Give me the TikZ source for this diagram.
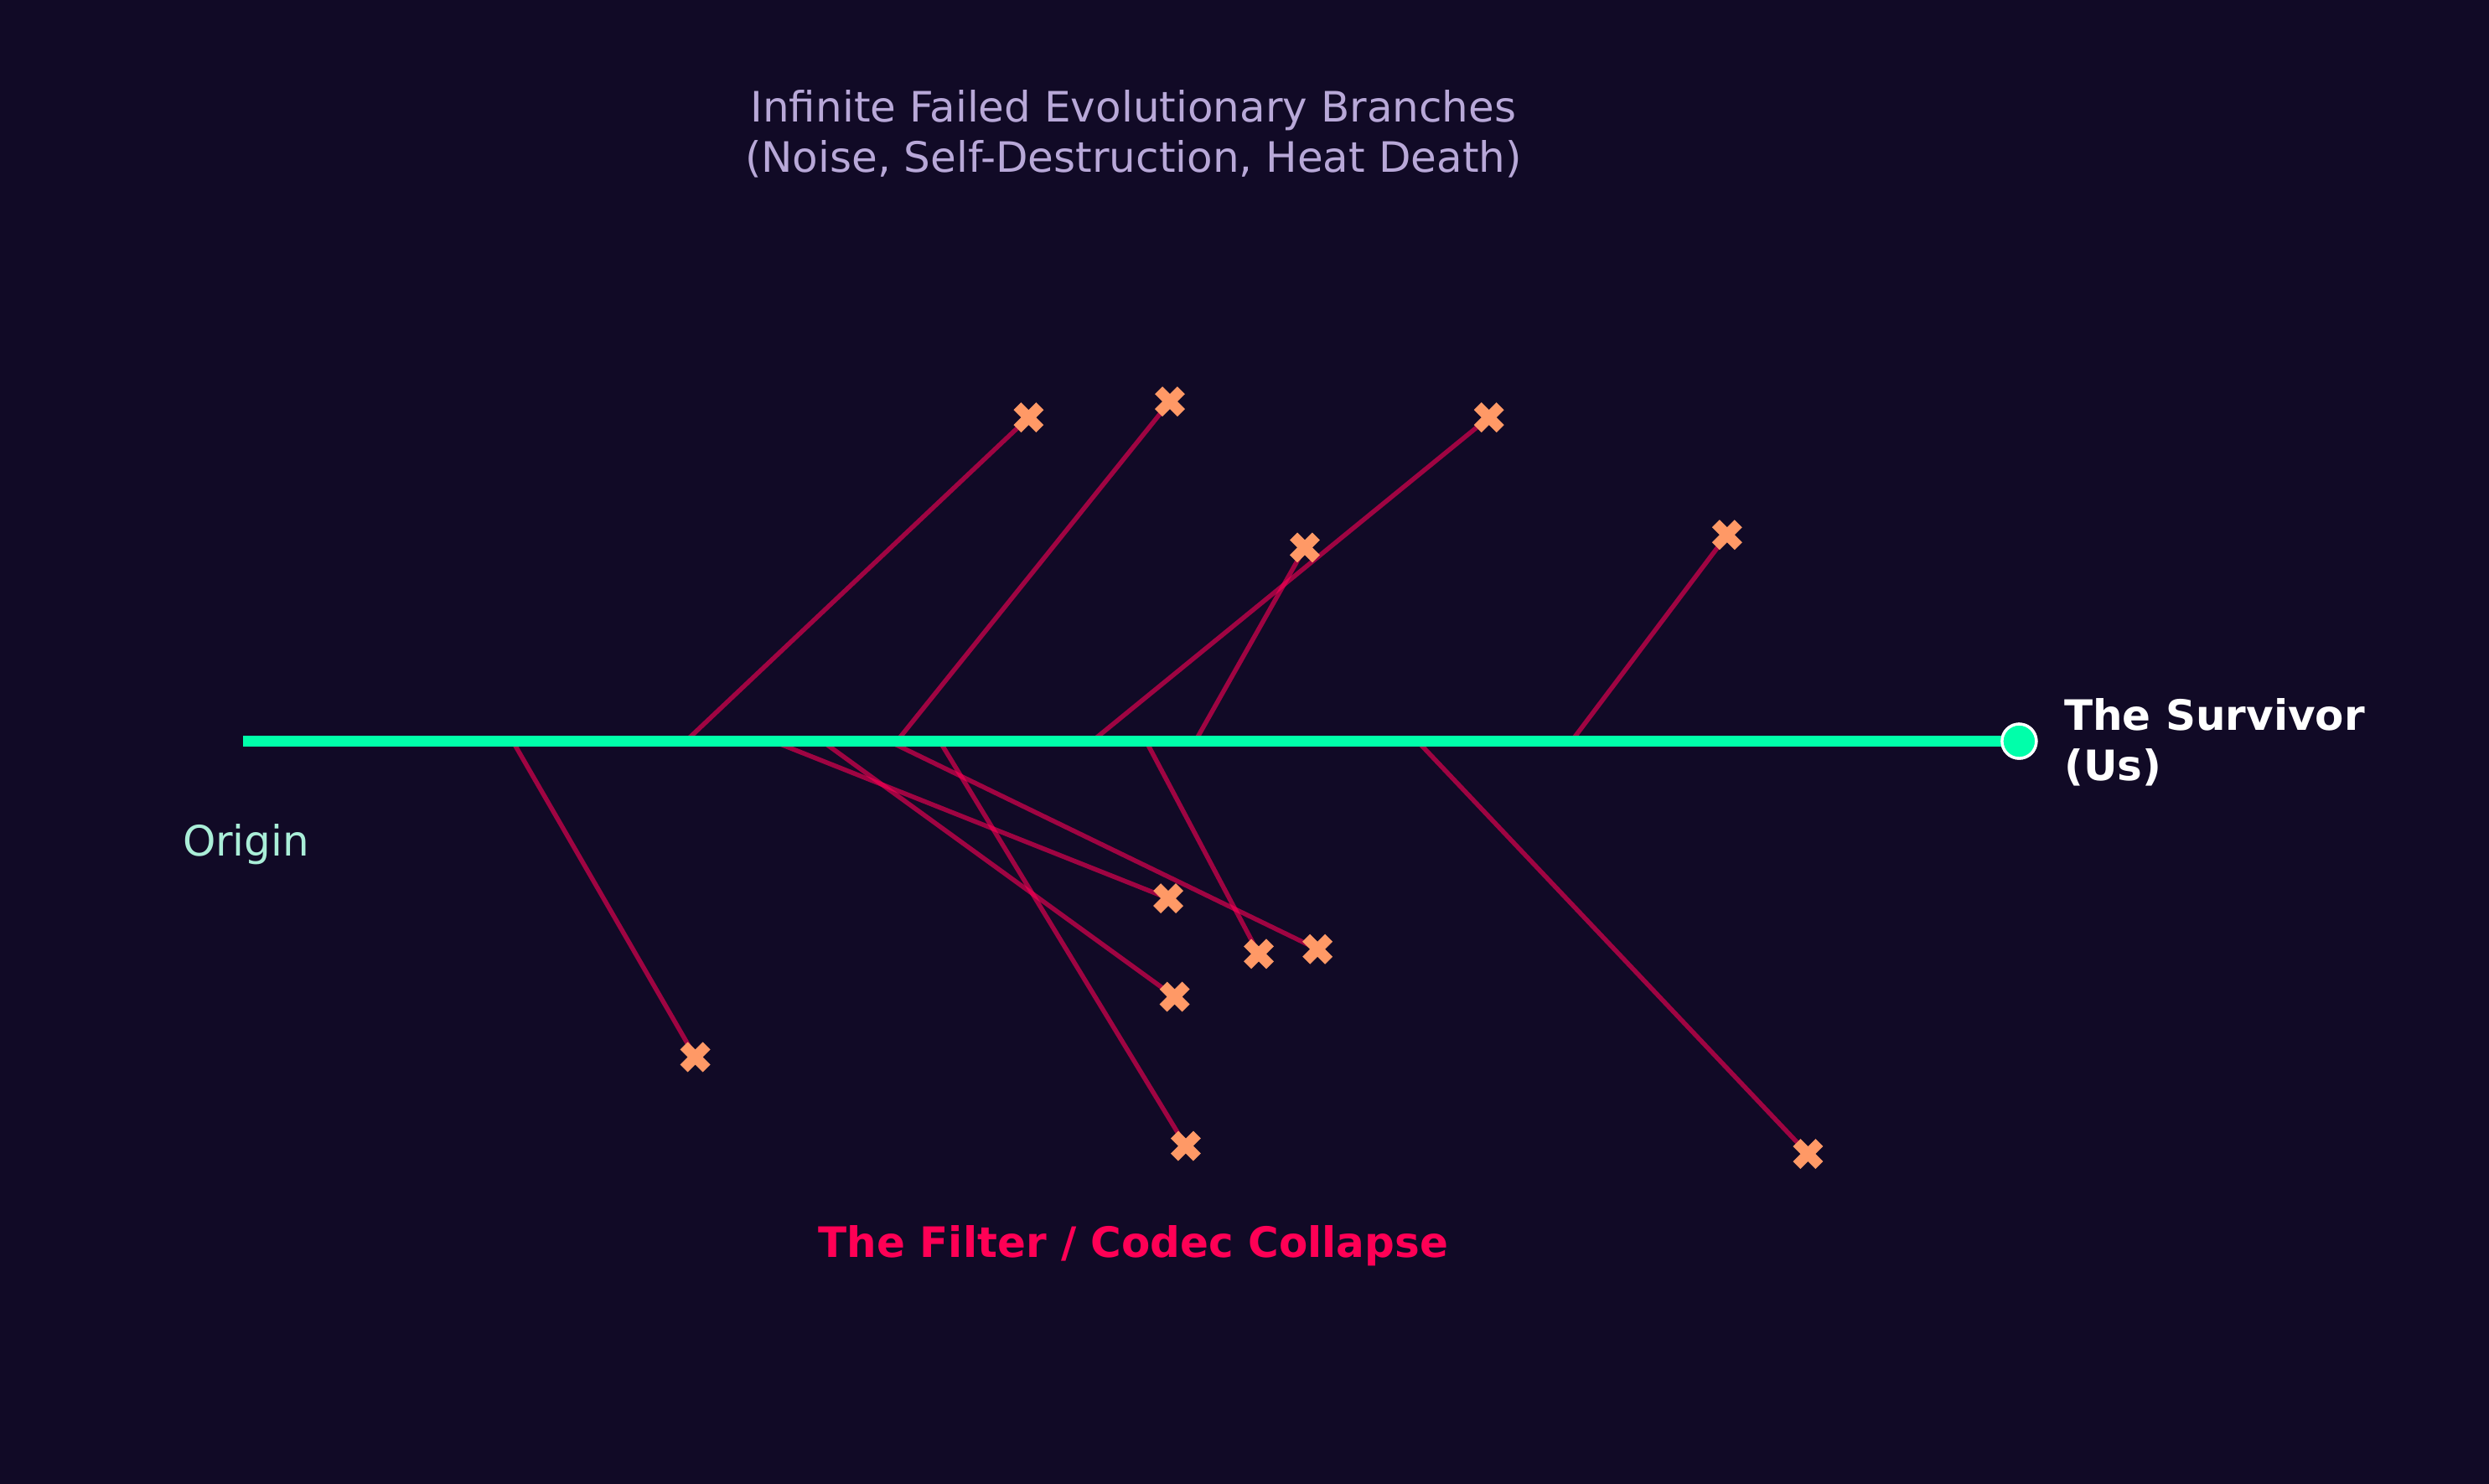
\documentclass[tikz,border=0pt]{standalone}
\usepackage{fontspec}
\setmainfont{DejaVu Sans}
\definecolor{bg}{HTML}{110A26}
\definecolor{life}{HTML}{00FFAA}
\definecolor{fail}{HTML}{FF0055}
\definecolor{xm}{HTML}{FF9966}
\definecolor{ttl}{HTML}{B8A8D8}
\definecolor{orig}{HTML}{AAEED8}
\begin{document}
\begin{tikzpicture}[x=0.5pt,y=-0.5pt,
  branch/.style={draw=fail, draw opacity=0.6, line width=1.45pt},
  xmark/.pic={\fill[xm, rotate=45, scale=3.35] (-1,-3)--(1,-3)--(1,-1)--(3,-1)--(3,1)--(1,1)--(1,3)--(-1,3)--(-1,1)--(-3,1)--(-3,-1)--(-1,-1)--cycle;},
  lbl/.style={font=\fontsize{13.2}{15.8}\selectfont, inner sep=0pt}]
\useasboundingbox (0,0) rectangle (1568,934.5);
\fill[bg] (-5,-5) rectangle (1575,940);
% branch start points on the survivor line
\coordinate (s1) at (432,467);
\coordinate (s2) at (565,467);
\coordinate (s3) at (688,467);
\coordinate (s4) at (753,467);
\coordinate (s5) at (990,467);
\coordinate (s6) at (323,467);
\coordinate (s7) at (487,467);
\coordinate (s8) at (518,467);
\coordinate (s9) at (560,467);
\coordinate (s10) at (592,467);
\coordinate (s11) at (722,467);
\coordinate (s12) at (893,467);
% dead ends
\coordinate (e1) at (648,263);
\coordinate (e2) at (737,253);
\coordinate (e3) at (938,263);
\coordinate (e4) at (822,345);
\coordinate (e5) at (1088,337);
\coordinate (e6) at (438,666);
\coordinate (e7) at (736,566);
\coordinate (e8) at (740,628);
\coordinate (e9) at (830,598);
\coordinate (e10) at (747,722);
\coordinate (e11) at (793,601);
\coordinate (e12) at (1139,727);
\foreach \i in {1,...,12} {\draw[branch] (s\i) -- (e\i);}
\coordinate (origin) at (153,467);
\node[circle, fill=life, draw=white, line width=0.9pt, minimum size=10.8pt, inner sep=0pt] (surv) at (1272,467) {};
\draw[life, line width=3.2pt] (origin) -- (surv.center);
\node[circle, fill=life, draw=white, line width=0.9pt, minimum size=10.8pt, inner sep=0pt] at (surv.center) {};
\foreach \i in {1,...,12} {\pic at (e\i) {xmark};}
\node[lbl, text=ttl, align=center] (title) at (714,84.5) {Infinite Failed Evolutionary Branches\\(Noise, Self-Destruction, Heat Death)};
\node[lbl, text=orig] (orl) at (155,532) {Origin};
\node[lbl, text=white, align=left, anchor=west, font=\fontsize{13.2}{15.8}\selectfont\bfseries] (survl) at (1300,467.5) {The Survivor\\(Us)};
\node[lbl, text=fail, font=\fontsize{13.2}{15.8}\selectfont\bfseries] (filt) at (714,785) {The Filter / Codec Collapse};
\end{tikzpicture}
\end{document}
